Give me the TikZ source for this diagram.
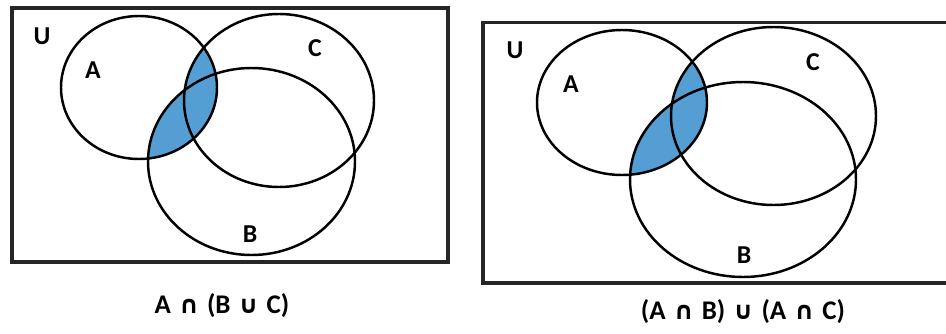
\documentclass[tikz,border=0pt]{standalone}
\usepackage{fontspec}
\setmainfont{Carlito}
\newfontfamily\symfont{DejaVu Sans}
\usetikzlibrary{positioning}
\definecolor{setblue}{RGB}{84,158,212}

\tikzset{
  setline/.style={line width=2.1pt, black},
  frameline/.style={line width=2.8pt, black!85},
  setlabel/.style={font=\fontsize{22}{24}\selectfont\bfseries, inner sep=0pt},
  caption/.style={font=\fontsize{23}{26}\selectfont\bfseries, inner sep=0pt}
}
\newcommand{\capsym}{{\symfont\fontsize{21}{24}\selectfont ∩}}
\newcommand{\cupsym}{{\symfont\fontsize{21}{24}\selectfont ∪}}
\newcommand{\gap}{\hspace{0.3em}}

\begin{document}
\begin{tikzpicture}[x=0.03cm, y=-0.03cm]
  \useasboundingbox (0,0) rectangle (946,334);

  % Left: A n (B u C)
  \begin{scope}
    \clip (139,87.5) ellipse [x radius=78, y radius=71.5];
    \fill[setblue] (251.5,161.5) ellipse [x radius=103.5, y radius=93.5];
    \fill[setblue] (279,100.5) ellipse [x radius=95, y radius=86.5];
  \end{scope}
  \draw[frameline] (12,8) rectangle (448,262);
  \draw[setline] (139,87.5) ellipse [x radius=78, y radius=71.5];
  \draw[setline] (279,100.5) ellipse [x radius=95, y radius=86.5];
  \draw[setline] (251.5,161.5) ellipse [x radius=103.5, y radius=93.5];

  \node[setlabel] (uL) at (42,36) {U};
  \node[setlabel] (aL) at (93,70) {A};
  \node[setlabel] (cL) at (315,48) {C};
  \node[setlabel] (bL) at (250,234) {B};
  \node[caption] (capL) at (222,306)
    {A\gap\capsym\gap(B\gap\cupsym\gap C)};

  % Right: (A n B) u (A n C)
  \begin{scope}
    \clip (622,102.5) ellipse [x radius=85, y radius=72.5];
    \fill[setblue] (743,179.5) ellipse [x radius=113, y radius=97.5];
    \fill[setblue] (773.5,116) ellipse [x radius=102.5, y radius=89];
  \end{scope}
  \draw[frameline] (950,22.7) -- (483,22.7) -- (483,283) -- (950,283);
  \draw[setline] (622,102.5) ellipse [x radius=85, y radius=72.5];
  \draw[setline] (773.5,116) ellipse [x radius=102.5, y radius=89];
  \draw[setline] (743,179.5) ellipse [x radius=113, y radius=97.5];

  \node[setlabel] (uR) at (515,50) {U};
  \node[setlabel] (aR) at (571,84) {A};
  \node[setlabel] (cR) at (813,62) {C};
  \node[setlabel] (bR) at (744,255) {B};
  \node[caption] (capR) at (743,312)
    {(A\gap\capsym\gap B)\gap\cupsym\gap(A\gap\capsym\gap C)};
\end{tikzpicture}
\end{document}
